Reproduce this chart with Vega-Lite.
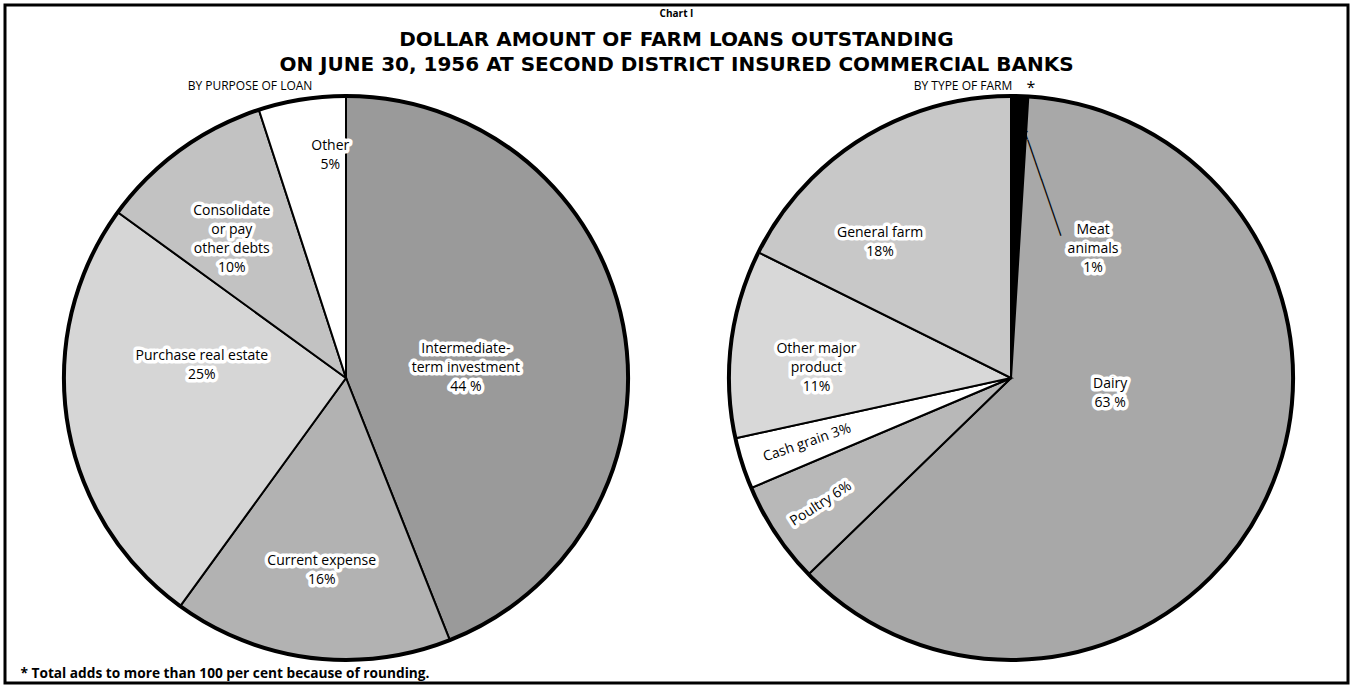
{
  "$schema": "https://vega.github.io/schema/vega-lite/v6.json",
  "width": 1343,
  "height": 678,
  "autosize": "none",
  "padding": {"left": 5, "top": 5, "right": 5, "bottom": 5},
  "background": "white",
  "config": {"view": {"stroke": "black", "strokeWidth": 3}, "font": "Open Sans"},
  "title": {
    "text": "Chart I",
    "subtitle": ["DOLLAR AMOUNT OF FARM LOANS OUTSTANDING", "ON JUNE 30, 1956 AT SECOND DISTRICT INSURED COMMERCIAL BANKS"],
    "anchor": "middle",
    "frame": "group",
    "offset": -70,
    "font": "Open Sans",
    "fontSize": 10,
    "fontWeight": "bold",
    "color": "black",
    "subtitleFont": "DejaVu Sans",
    "subtitleFontSize": 20,
    "subtitleFontWeight": "bold",
    "subtitleColor": "black",
    "subtitleLineHeight": 25,
    "subtitlePadding": 11
  },
  "datasets": {
    "loans": [
      {"chart": "purpose", "cat": "Intermediate-term investment", "pct": 44, "label": "Intermediate-\nterm investment\n44 %"},
      {"chart": "purpose", "cat": "Current expense", "pct": 16, "label": "Current expense\n16%"},
      {"chart": "purpose", "cat": "Purchase real estate", "pct": 25, "label": "Purchase real estate\n25%"},
      {"chart": "purpose", "cat": "Consolidate or pay other debts", "pct": 10, "label": "Consolidate\nor pay\nother debts\n10%"},
      {"chart": "purpose", "cat": "Other", "pct": 5, "label": "Other\n5%"},
      {"chart": "type", "cat": "Meat animals", "pct": 1, "label": "Meat\nanimals\n1%"},
      {"chart": "type", "cat": "Dairy", "pct": 63, "label": "Dairy\n63 %"},
      {"chart": "type", "cat": "Poultry", "pct": 6, "label": "Poultry  6%"},
      {"chart": "type", "cat": "Cash grain", "pct": 3, "label": "Cash grain 3%"},
      {"chart": "type", "cat": "Other major product", "pct": 11, "label": "Other major\nproduct\n11%"},
      {"chart": "type", "cat": "General farm", "pct": 18, "label": "General farm\n18%"}
    ],
    "heads": [
      {"chart": "purpose", "head": "BY PURPOSE OF LOAN"},
      {"chart": "type", "head": "BY TYPE OF FARM"}
    ]
  },
  "data": {"name": "loans"},
  "encoding": {
    "x": {
      "field": "chart",
      "type": "nominal",
      "scale": {"type": "point", "domain": ["purpose", "type"], "range": [341, 1006], "padding": 0},
      "axis": {
        "orient": "bottom",
        "title": "*  Total adds to more than 100 per cent because of rounding.",
        "labels": false,
        "ticks": false,
        "domain": false,
        "grid": false,
        "titleAnchor": "start",
        "titleAlign": "left",
        "titleBaseline": "middle",
        "titleX": 15,
        "titleY": -10,
        "titleFont": "Open Sans",
        "titleFontSize": 13.7,
        "titleFontWeight": "bold",
        "titleColor": "black"
      }
    },
    "y": {
      "field": "chart",
      "type": "nominal",
      "scale": {"type": "point", "domain": ["purpose", "type"], "range": [373, 373], "padding": 0},
      "axis": null
    }
  },
  "layer": [
    {
      "transform": [{"filter": "datum.chart === 'purpose'"}, {"window": [{"op": "row_number", "as": "idx"}]}],
      "mark": {"type": "arc", "outerRadius": 282, "stroke": "black", "strokeWidth": 2},
      "encoding": {
        "theta": {"field": "pct", "type": "quantitative", "stack": "normalize"},
        "order": {"field": "idx", "type": "quantitative"},
        "fill": {
          "field": "cat",
          "type": "nominal",
          "scale": {
            "domain": ["Intermediate-term investment", "Current expense", "Purchase real estate", "Consolidate or pay other debts", "Other", "Meat animals", "Dairy", "Poultry", "Cash grain", "Other major product", "General farm"],
            "range": ["#9a9a9a", "#b2b2b2", "#d6d6d6", "#c2c2c2", "#ffffff", "#000000", "#a8a8a8", "#b8b8b8", "#ffffff", "#d8d8d8", "#c8c8c8"]
          },
          "legend": null
        }
      }
    },
    {
      "transform": [{"filter": "datum.chart === 'type'"}, {"window": [{"op": "row_number", "as": "idx"}]}],
      "mark": {"type": "arc", "outerRadius": 282, "stroke": "black", "strokeWidth": 2},
      "encoding": {
        "theta": {"field": "pct", "type": "quantitative", "stack": "normalize"},
        "order": {"field": "idx", "type": "quantitative"},
        "fill": {"field": "cat", "type": "nominal", "legend": null}
      }
    },
    {
      "transform": [{"aggregate": [{"op": "count", "as": "n"}], "groupby": ["chart"]}],
      "mark": {"type": "arc", "theta": 0, "theta2": 6.2832, "outerRadius": 282, "fill": null, "stroke": "black", "strokeWidth": 4}
    },
    {
      "transform": [{"filter": "datum.chart === 'purpose'"}, {"window": [{"op": "row_number", "as": "idx"}]}],
      "encoding": {
        "theta": {"field": "pct", "type": "quantitative", "stack": "normalize"},
        "order": {"field": "idx", "type": "quantitative"},
        "radius": {"value": {"expr": "datum.cat === 'Intermediate-term investment' ? 122 : datum.cat === 'Current expense' ? 194 : datum.cat === 'Purchase real estate' ? 152 : datum.cat === 'Consolidate or pay other debts' ? 179 : 222"}},
        "text": {"field": "label"}
      },
      "layer": [
        {"mark": {"type": "text", "lineBreak": "\n", "lineHeight": 19, "fontSize": 14, "fill": "white", "stroke": "white", "strokeWidth": 7, "strokeJoin": "round",
          "dx": {"expr": "datum.cat === 'Other' ? 19 : datum.cat === 'Purchase real estate' ? 6 : datum.cat === 'Consolidate or pay other debts' ? -9 : 0"},
          "dy": {"expr": "datum.cat === 'Intermediate-term investment' ? -6 : datum.cat === 'Current expense' ? -9.5 : datum.cat === 'Purchase real estate' ? -45.5 : datum.cat === 'Consolidate or pay other debts' ? -22.5 : -12.5"}}},
        {"mark": {"type": "text", "lineBreak": "\n", "lineHeight": 19, "fontSize": 14, "fill": "black",
          "dx": {"expr": "datum.cat === 'Other' ? 19 : datum.cat === 'Purchase real estate' ? 6 : datum.cat === 'Consolidate or pay other debts' ? -9 : 0"},
          "dy": {"expr": "datum.cat === 'Intermediate-term investment' ? -6 : datum.cat === 'Current expense' ? -9.5 : datum.cat === 'Purchase real estate' ? -45.5 : datum.cat === 'Consolidate or pay other debts' ? -22.5 : -12.5"}}}
      ]
    },
    {
      "transform": [{"filter": "datum.chart === 'type'"}, {"window": [{"op": "row_number", "as": "idx"}]}],
      "encoding": {
        "theta": {"field": "pct", "type": "quantitative", "stack": "normalize"},
        "order": {"field": "idx", "type": "quantitative"}
      },
      "layer": [
        {
          "mark": {"type": "text", "font": "DejaVu Sans", "fontSize": 14, "fontWeight": "bold", "fill": "black", "dx": 14, "dy": -21, "angle": 70.9},
          "encoding": {
            "radius": {"value": 202},
            "text": {"value": "←────────────"},
            "opacity": {"condition": {"test": "datum.cat === 'Meat animals'", "value": 1}, "value": 0}
          }
        },
        {
          "mark": {"type": "text", "lineBreak": "\n", "lineHeight": 19, "fontSize": 14, "fill": "white", "stroke": "white", "strokeWidth": 7, "strokeJoin": "round",
            "dx": {"expr": "datum.cat === 'Meat animals' ? 78 : datum.cat === 'Dairy' ? 12 : datum.cat === 'General farm' ? -34 : 0"},
            "dy": {"expr": "datum.cat === 'Meat animals' ? -17 : datum.cat === 'Dairy' ? -34.5 : datum.cat === 'Poultry' ? 0 : datum.cat === 'Cash grain' ? 0 : datum.cat === 'Other major product' ? -5 : 11.5"}},
          "encoding": {
            "radius": {"value": {"expr": "datum.cat === 'Meat animals' ? 131 : datum.cat === 'Dairy' ? 96 : datum.cat === 'Poultry' ? 228 : datum.cat === 'Cash grain' ? 214 : datum.cat === 'Other major product' ? 196 : 184"}},
            "angle": {"condition": [{"test": "datum.cat === 'Poultry'", "value": 327}, {"test": "datum.cat === 'Cash grain'", "value": 341}], "value": 0},
            "text": {"field": "label"}
          }
        },
        {
          "mark": {"type": "text", "lineBreak": "\n", "lineHeight": 19, "fontSize": 14, "fill": "black",
            "dx": {"expr": "datum.cat === 'Meat animals' ? 78 : datum.cat === 'Dairy' ? 12 : datum.cat === 'General farm' ? -34 : 0"},
            "dy": {"expr": "datum.cat === 'Meat animals' ? -17 : datum.cat === 'Dairy' ? -34.5 : datum.cat === 'Poultry' ? 0 : datum.cat === 'Cash grain' ? 0 : datum.cat === 'Other major product' ? -5 : 11.5"}},
          "encoding": {
            "radius": {"value": {"expr": "datum.cat === 'Meat animals' ? 131 : datum.cat === 'Dairy' ? 96 : datum.cat === 'Poultry' ? 228 : datum.cat === 'Cash grain' ? 214 : datum.cat === 'Other major product' ? 196 : 184"}},
            "angle": {"condition": [{"test": "datum.cat === 'Poultry'", "value": 327}, {"test": "datum.cat === 'Cash grain'", "value": 341}], "value": 0},
            "text": {"field": "label"}
          }
        }
      ]
    },
    {
      "data": {"name": "heads"},
      "mark": {"type": "text", "fontSize": 12, "fill": "black", "dx": {"expr": "datum.chart === 'purpose' ? -96 : -48"}},
      "encoding": {
        "theta": {"value": 0},
        "radius": {"value": 292},
        "text": {"field": "head"}
      }
    },
    {
      "data": {"name": "heads"},
      "transform": [{"filter": "datum.chart === 'type'"}],
      "mark": {"type": "text", "fontSize": 16, "fill": "black", "dx": 20},
      "encoding": {
        "theta": {"value": 0},
        "radius": {"value": 290},
        "text": {"value": "*"}
      }
    }
  ]
}
